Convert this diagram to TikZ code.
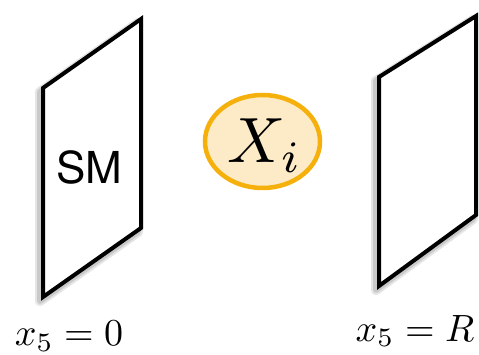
\documentclass[tikz,border=0pt]{standalone}
\usepackage{fontspec}
\newfontfamily\helv{TeX Gyre Heros}
\usetikzlibrary{shapes.geometric}
\definecolor{xiedge}{RGB}{245,176,12}
\definecolor{xifill}{RGB}{253,235,200}
\tikzset{
  plane/.style={draw=black, line width=4pt, line join=miter, fill=white},
  planeshadow/.style={draw=black, line width=10pt, opacity=0.10, line join=round},
  planeshadowin/.style={draw=black, line width=6pt, opacity=0.12, line join=round},
  lbl/.style={inner sep=0pt, anchor=base, scale=3.8},
}
\begin{document}
\begin{tikzpicture}[x=1pt, y=-1pt]
\useasboundingbox (0,0) rectangle (479,355);
% left plane
\coordinate (L1) at (43,88);
\coordinate (L2) at (141,19);
\coordinate (L3) at (141,228);
\coordinate (L4) at (43,297);
\begin{scope}[shift={(-3,4)}]
  \draw[planeshadow] (43,88) -- (141,19) -- (141,228) -- (43,297) -- cycle;
  \draw[planeshadowin] (43,88) -- (141,19) -- (141,228) -- (43,297) -- cycle;
\end{scope}
\draw[plane] (L1) -- (L2) -- (L3) -- (L4) -- cycle;
% right plane
\coordinate (R1) at (379,77);
\coordinate (R2) at (476,16);
\coordinate (R3) at (476,215);
\coordinate (R4) at (379,286);
\begin{scope}[shift={(-3,4)}]
  \draw[planeshadow] (379,77) -- (476,16) -- (476,215) -- (379,286) -- cycle;
  \draw[planeshadowin] (379,77) -- (476,16) -- (476,215) -- (379,286) -- cycle;
\end{scope}
\draw[plane] (R1) -- (R2) -- (R3) -- (R4) -- cycle;
% SM label
\node[inner sep=0pt, anchor=base, font=\helv\fontsize{44}{48}\selectfont] (sm) at (89,184) {SM};
% X_i
\node[ellipse, draw=xiedge, fill=xifill, line width=4.5pt, minimum width=115pt, minimum height=93pt, inner sep=0pt] (xi) at (262.5,141.5) {};
\node[inner sep=0pt, anchor=base, scale=6.4] (xit) at (265,163) {$X_i$};
% labels
\node[lbl] (l0) at (69,345.5) {$x_5=0$};
\node[lbl] (lR) at (415,341) {$x_5=R$};
\end{tikzpicture}
\end{document}
